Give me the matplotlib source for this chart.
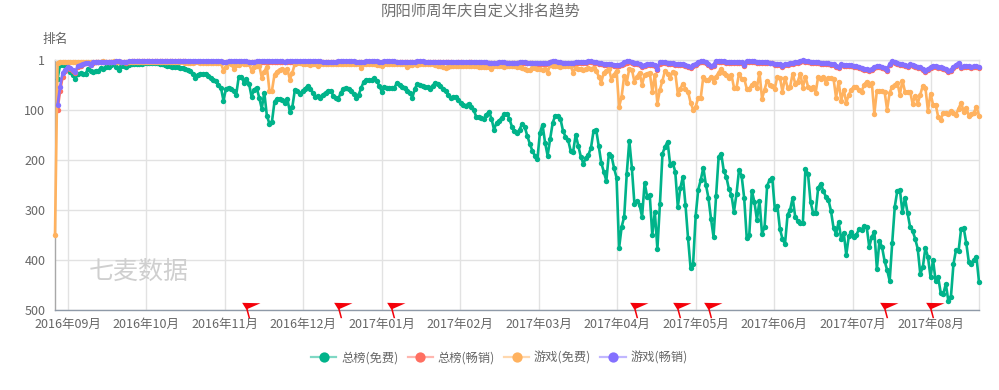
import numpy as np
import matplotlib
matplotlib.use('Agg')
import matplotlib.pyplot as plt
from matplotlib.lines import Line2D
from matplotlib.path import Path
from matplotlib.colors import to_rgba

plt.rcParams['font.family'] = ['Noto Sans CJK SC', 'DejaVu Sans']

nan = np.nan

title = '阴阳师周年庆自定义排名趋势'
month_labels = ['2016年09月', '2016年10月', '2016年11月', '2016年12月', '2017年01月', '2017年02月',
                '2017年03月', '2017年04月', '2017年05月', '2017年06月', '2017年07月', '2017年08月']
rank_ticks = [1, 100, 200, 300, 400, 500]
series_names = ['总榜(免费)', '总榜(畅销)', '游戏(免费)', '游戏(畅销)']
series_colors = ['#00b38a', '#ff6f61', '#ffb25f', '#8470ff']

# days (index into the series) that carry a red flag
flag_days = [76, 112, 133, 228, 245, 257, 326, 344]

free_all = [
    nan, 38, 11, 10, 11, 16, 24, 30, 38, 28,
    27, 28, 28, 18, 22, 24, 22, 22, 17, 18,
    14, 14, 11, 9, 14, 20, 12, 12, 14, 10,
    8, 8, 8, 8, 8, 7, 7, 7, 7, 7,
    7, 8, 9, 10, 12, 13, 14, 15, 15, 16,
    16, 18, 20, 22, 28, 36, 30, 28, 29, 28,
    32, 36, 40, 42, 50, 56, 82, 58, 56, 58,
    62, 70, 34, 34, 46, 38, 48, 74, 60, 56,
    76, 98, 66, 112, 128, 124, 84, 78, 78, 80,
    86, 78, 104, 94, 60, 62, 68, 62, 58, 52,
    58, 66, 74, 72, 76, 70, 66, 62, 62, 72,
    76, 78, 66, 58, 56, 58, 62, 68, 76, 70,
    56, 44, 40, 41, 40, 37, 42, 52, 64, 54,
    56, 56, 57, 56, 46, 50, 54, 56, 62, 66,
    76, 58, 48, 50, 52, 54, 54, 58, 52, 46,
    48, 52, 58, 62, 70, 76, 75, 74, 80, 86,
    90, 92, 88, 94, 100, 114, 114, 116, 118, 110,
    104, 118, 140, 126, 122, 116, 109, 108, 118, 134,
    142, 146, 140, 128, 134, 152, 168, 182, 192, 198,
    146, 130, 166, 192, 158, 126, 112, 112, 118, 142,
    154, 160, 182, 184, 150, 172, 194, 208, 196, 190,
    176, 142, 140, 172, 206, 224, 242, 188, 192, 216,
    236, 376, 334, 314, 228, 162, 216, 288, 282, 290,
    314, 246, 274, 270, 350, 304, 378, 288, 188, 174,
    164, 210, 206, 224, 294, 256, 234, 290, 356, 416,
    408, 312, 260, 240, 216, 250, 276, 318, 354, 272,
    194, 188, 222, 234, 258, 270, 304, 268, 220, 232,
    276, 356, 350, 262, 284, 320, 282, 348, 334, 252,
    240, 236, 298, 292, 338, 358, 368, 310, 300, 276,
    314, 322, 326, 326, 218, 228, 284, 306, 306, 256,
    248, 262, 274, 280, 302, 336, 348, 324, 358, 346,
    390, 352, 344, 354, 350, 338, 340, 332, 334, 374,
    354, 344, 418, 362, 374, 402, 420, 442, 366, 294,
    262, 260, 304, 276, 306, 334, 342, 358, 378, 428,
    414, 376, 394, 434, 400, 442, 434, 466, 468, 448,
    482, 474, 408, 380, 382, 338, 336, 366, 404, 408,
    400, 394, 444,
]

paid_all = [
    nan, 100, 62, 34, 22, 16, 18, 22, 26, 14,
    12, 9, 7, 7, 11, 6, 5, 5, 5, 5,
    5, 5, 5, 5, 4, 4, 5, 5, 6, 4,
    3, 3, 3, 3, 3, 3, 3, 3, 3, 3,
    3, 3, 3, 3, 3, 3, 3, 3, 3, 3,
    3, 3, 4, 4, 4, 4, 4, 4, 4, 4,
    4, 4, 4, 4, 4, 4, 5, 5, 4, 4,
    4, 4, 4, 4, 4, 4, 5, 5, 5, 4,
    4, 4, 4, 4, 4, 4, 4, 4, 4, 4,
    5, 4, 4, 4, 4, 4, 4, 4, 4, 4,
    4, 4, 4, 4, 4, 5, 5, 5, 5, 5,
    5, 4, 4, 4, 4, 4, 4, 4, 5, 5,
    5, 5, 4, 4, 4, 4, 4, 5, 5, 4,
    4, 4, 4, 4, 5, 5, 5, 5, 5, 5,
    5, 5, 4, 4, 4, 5, 5, 5, 5, 5,
    5, 5, 5, 5, 5, 5, 6, 6, 5, 5,
    6, 6, 5, 5, 6, 6, 6, 6, 6, 6,
    7, 7, 7, 7, 6, 6, 6, 7, 7, 7,
    7, 7, 6, 6, 6, 7, 7, 7, 8, 8,
    8, 8, 8, 9, 5, 4, 5, 6, 7, 8,
    8, 8, 9, 8, 7, 6, 7, 7, 6, 5,
    5, 6, 7, 8, 9, 10, 10, 10, 11, 12,
    12, 13, 11, 8, 6, 5, 6, 8, 9, 11,
    14, 12, 11, 10, 11, 12, 21, 8, 7, 7,
    8, 8, 9, 10, 10, 10, 10, 12, 14, 16,
    12, 10, 7, 5, 5, 6, 10, 14, 12, 4,
    4, 5, 5, 6, 6, 6, 6, 7, 7, 7,
    12, 5, 5, 5, 5, 6, 6, 6, 6, 6,
    7, 7, 10, 10, 11, 14, 11, 10, 9, 8,
    7, 6, 4, 3, 4, 5, 6, 6, 7, 7,
    8, 8, 9, 9, 10, 11, 14, 16, 11, 12,
    12, 12, 13, 14, 15, 16, 18, 20, 21, 22,
    20, 16, 15, 14, 16, 19, 23, 10, 5, 6,
    8, 10, 11, 12, 14, 11, 12, 14, 16, 17,
    20, 24, 20, 17, 14, 15, 16, 17, 19, 21,
    24, 22, 16, 12, 8, 16, 15, 14, 15, 16,
    15, 14, 16,
]

free_game = [
    350, 6, 4, 4, 4, 4, 4, 4, 4, 4,
    4, 4, 5, 4, 4, 4, 4, 5, 4, 3,
    4, 4, 4, 3, 4, 4, 4, 4, 4, 4,
    4, 4, 4, 5, 5, 5, 5, 5, 5, 5,
    5, 5, 5, 5, 5, 5, 5, 5, 5, 5,
    5, 6, 6, 6, 6, 5, 5, 6, 6, 6,
    6, 6, 6, 7, 6, 7, 22, 14, 6, 8,
    18, 10, 10, 6, 8, 8, 8, 22, 14, 12,
    12, 36, 24, 14, 62, 62, 30, 24, 20, 18,
    24, 18, 40, 26, 8, 6, 6, 8, 8, 8,
    10, 8, 8, 12, 8, 8, 8, 8, 8, 9,
    8, 8, 8, 8, 8, 8, 8, 8, 8, 8,
    16, 8, 9, 8, 8, 8, 10, 10, 12, 9,
    8, 8, 9, 9, 8, 8, 8, 8, 14, 10,
    10, 9, 10, 9, 9, 8, 8, 9, 9, 10,
    12, 12, 14, 16, 14, 12, 12, 12, 12, 12,
    13, 12, 12, 12, 12, 13, 14, 14, 14, 15,
    14, 18, 12, 12, 13, 13, 14, 12, 12, 12,
    12, 14, 14, 16, 18, 20, 20, 16, 16, 18,
    18, 20, 18, 26, 10, 12, 13, 13, 14, 13,
    12, 12, 13, 26, 16, 18, 18, 20, 18, 16,
    18, 16, 22, 34, 46, 26, 22, 18, 40, 30,
    22, 94, 74, 32, 46, 18, 20, 44, 34, 26,
    50, 30, 28, 26, 64, 30, 88, 60, 42, 22,
    28, 36, 24, 26, 68, 58, 48, 58, 64, 86,
    100, 94, 76, 76, 34, 40, 40, 34, 44, 34,
    26, 18, 26, 30, 36, 30, 56, 56, 28, 38,
    38, 58, 58, 50, 46, 56, 26, 78, 60, 42,
    50, 52, 58, 34, 36, 64, 36, 56, 54, 28,
    48, 44, 28, 56, 34, 54, 58, 54, 66, 34,
    38, 34, 46, 36, 37, 38, 76, 44, 82, 60,
    86, 70, 60, 54, 54, 60, 64, 50, 44, 50,
    46, 108, 62, 62, 63, 64, 100, 66, 54, 50,
    46, 70, 42, 64, 64, 64, 88, 72, 88, 70,
    52, 56, 102, 68, 90, 90, 114, 120, 106, 107,
    108, 102, 106, 110, 98, 86, 104, 96, 112, 109,
    106, 94, 112,
]

paid_game = [
    nan, 90, 54, 26, 20, 14, 16, 20, 24, 12,
    10, 8, 6, 6, 10, 5, 4, 4, 4, 4,
    4, 4, 4, 4, 3, 3, 4, 4, 5, 3,
    2, 2, 2, 2, 2, 2, 2, 2, 2, 2,
    2, 2, 2, 2, 2, 2, 2, 2, 2, 2,
    2, 2, 3, 3, 3, 3, 3, 3, 3, 3,
    3, 3, 3, 3, 3, 3, 4, 4, 3, 3,
    3, 3, 3, 3, 3, 3, 4, 4, 4, 3,
    3, 3, 3, 3, 3, 3, 3, 3, 3, 3,
    4, 3, 3, 3, 3, 3, 3, 3, 3, 3,
    3, 3, 3, 3, 3, 4, 4, 4, 4, 4,
    4, 3, 3, 3, 3, 3, 3, 3, 4, 4,
    4, 4, 3, 3, 3, 3, 3, 4, 4, 3,
    3, 3, 3, 3, 4, 4, 4, 4, 4, 4,
    4, 4, 3, 3, 3, 4, 4, 4, 4, 4,
    4, 4, 4, 4, 4, 4, 5, 5, 4, 4,
    5, 5, 4, 4, 5, 5, 5, 5, 5, 5,
    6, 6, 6, 6, 5, 5, 5, 6, 6, 6,
    6, 6, 5, 5, 5, 6, 6, 6, 7, 7,
    7, 7, 7, 7, 4, 2, 3, 4, 5, 6,
    6, 6, 7, 6, 5, 4, 5, 5, 4, 3,
    3, 4, 5, 6, 7, 8, 8, 8, 9, 10,
    10, 10, 8, 5, 3, 3, 4, 6, 7, 9,
    12, 10, 9, 8, 9, 10, 18, 5, 5, 5,
    6, 6, 7, 8, 8, 8, 8, 10, 12, 14,
    10, 8, 5, 3, 3, 4, 8, 12, 10, 2,
    2, 3, 3, 4, 4, 4, 4, 5, 5, 5,
    10, 3, 3, 3, 3, 4, 4, 4, 4, 4,
    7, 7, 8, 8, 9, 12, 9, 8, 7, 6,
    5, 4, 2, 1, 2, 3, 4, 4, 5, 5,
    6, 6, 7, 7, 8, 9, 12, 14, 9, 10,
    10, 10, 11, 12, 13, 14, 16, 18, 19, 20,
    18, 14, 13, 12, 14, 17, 20, 8, 3, 4,
    6, 8, 9, 10, 12, 9, 10, 12, 14, 15,
    18, 22, 18, 15, 12, 13, 14, 15, 17, 19,
    22, 20, 14, 10, 6, 14, 13, 12, 13, 14,
    13, 12, 14,
]

all_series = [free_all, paid_all, free_game, paid_game]

fig = plt.figure(figsize=(9.99, 3.9), dpi=100)
ax = fig.add_axes([55 / 999, 1 - 310 / 390, 924 / 999, 250 / 390])

# category axis: the month labels are evenly spaced, not real month lengths
month_pos = 4.9 + 30.76 * np.arange(len(month_labels))

for values, color in zip(all_series, series_colors):
    ax.plot(np.arange(len(values)), values, color=color, lw=1.9, marker='o', ms=3.9,
            mew=0, clip_on=False, zorder=3)

ax.set_xlim(0, len(free_all) - 1)
ax.set_ylim(500, 1)
ax.set_yticks(rank_ticks)
ax.set_xticks(month_pos)
ax.set_xticklabels(month_labels)
ax.tick_params(length=0, labelsize=9, labelcolor='#666666')
ax.tick_params(axis='x', pad=5.5)
ax.tick_params(axis='y', pad=7)
ax.grid(True, color='#e2e2e2', lw=1)
ax.set_axisbelow(True)

for side in ['top', 'right']:
    ax.spines[side].set_color('#e2e2e2')
    ax.spines[side].set_linewidth(1)
ax.spines['left'].set_color('#a8a8a8')
ax.spines['bottom'].set_color('#8f9aa8')
ax.spines['left'].set_linewidth(1)
ax.spines['bottom'].set_linewidth(1)

# flag marker, drawn around the point where the pole crosses the axis
flag = Path([(-6.7, 7), (10, 6.6), (-1.6, 1.5), (0.6, -7), (-0.8, -7), (-3, 1), (-6.7, 7)], closed=True)
ax.plot(flag_days, [rank_ticks[-1]] * len(flag_days), ls='', marker=flag, ms=15.8, color='#f40009',
        mew=0, clip_on=False, zorder=4)

fig.text(481 / 999, 1 - 11 / 390, title, ha='center', va='center', fontsize=11.1, color='#707070')
fig.text(55 / 999, 1 - 39 / 390, '排名', ha='center', va='center', fontsize=9.2, color='#666666')
fig.text(138.5 / 999, 1 - 272 / 390, '七麦数据', ha='center', va='center', fontsize=18, color='#cfcfcf',
         style='italic')

handles = []
for name, color in zip(series_names, series_colors):
    handles.append(Line2D([], [], color=to_rgba(color, 0.5), lw=1.6, marker='o', ms=7.4, mew=0,
                          markerfacecolor=color, label=name))
fig.legend(handles=handles, loc='center', bbox_to_anchor=(499.5 / 999, 1 - 358 / 390), ncol=4, frameon=False,
           fontsize=8.8, labelcolor='#666666', handlelength=2.05, handletextpad=0.4, columnspacing=0.75)

fig.savefig('out.png', dpi=100)
